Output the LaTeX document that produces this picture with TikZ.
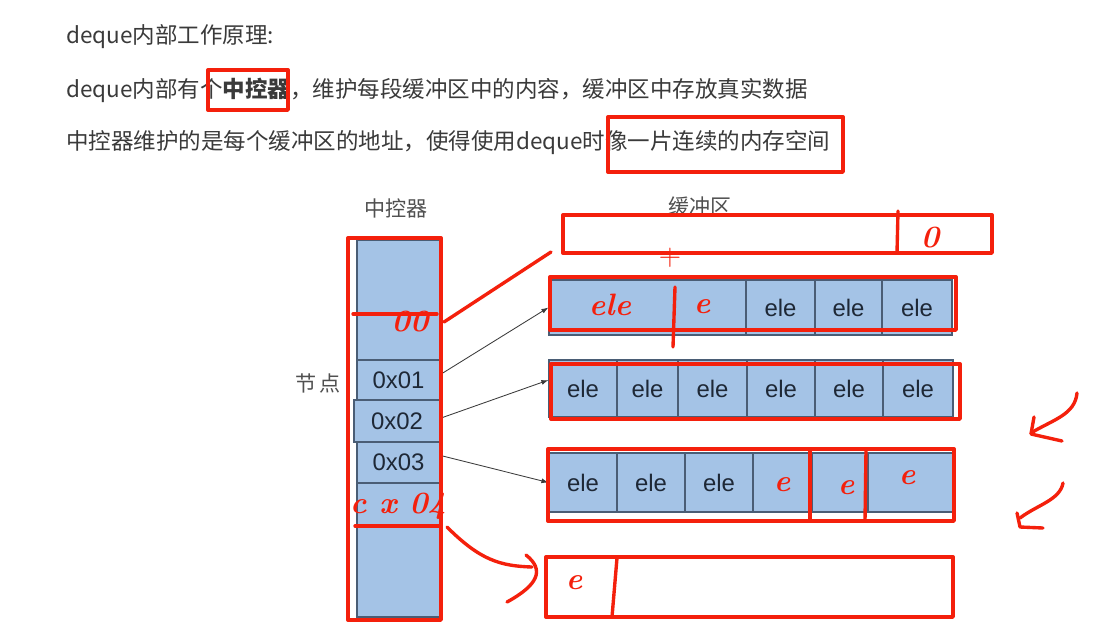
\documentclass[tikz,border=0pt]{standalone}
\usepackage{fontspec}
\newfontfamily\cjkfont{Noto Sans CJK SC}
\newfontfamily\cellfont{Liberation Sans}
\usetikzlibrary{arrows.meta,positioning,calc}
\definecolor{DqText}{HTML}{3A3A3A}
\definecolor{DqGray}{HTML}{505050}
\definecolor{DqBlue}{HTML}{A4C3E6}
\definecolor{DqEdge}{HTML}{4A5D75}
\definecolor{DqInk}{HTML}{1E2836}
\definecolor{DqRed}{HTML}{F4200C}
\tikzset{
  para/.style={anchor=west, inner sep=0pt, text=DqText, font=\cjkfont\fontsize{16}{20}\selectfont},
  lbl/.style={inner sep=0pt, text=DqGray, font=\cjkfont\fontsize{15}{18}\selectfont},
  cell/.style={draw=DqEdge, fill=DqBlue, line width=0.8pt, inner sep=0pt,
               text=DqInk, font=\cellfont\fontsize{17}{20}\selectfont},
  ptr/.style={-{Latex[length=5pt,width=3.5pt]}, draw=DqText, line width=0.6pt},
  redmark/.style={draw=DqRed, line width=2.4pt, line cap=round, line join=round},
  ink/.style={inner sep=0pt, text=DqRed, font=\itshape\bfseries\fontsize{22}{24}\selectfont},
}
\begin{document}
\begin{tikzpicture}[x=0.025cm, y=-0.025cm]
  \useasboundingbox[fill=white] (0,0) rectangle (1104,633);

  % text above the picture
  \node[para] (t1) at (66,37) {deque内部工作原理:};
  \node[para] (t2) at (66,90) {deque内部有个\textbf{中控器}，维护每段缓冲区中的内容，缓冲区中存放真实数据};
  \node[para] (t3) at (66,143) {中控器维护的是每个缓冲区的地址，使得使用deque时像一片连续的内存空间};

  \node[lbl] (lctl) at (396,208) {中控器};
  \node[lbl] (lbuf) at (700,207) {缓冲区};
  \node[lbl] (lnode) at (318,383) {节\,点};

  % central map
  \node[cell, minimum width=2.075cm, minimum height=3cm] (ctop) at (398.5,300) {};
  \node[cell, minimum width=2.075cm, minimum height=1cm] (c1) at (398.5,380) {0x01};
  \node[cell, minimum width=2.075cm, minimum height=1.025cm] (c3) at (398.5,462.5) {0x03};
  \node[cell, minimum width=2.075cm, minimum height=3.35cm] (cbot) at (398.5,550) {};
  \node[cell, minimum width=2.15cm, minimum height=1.05cm] (c2) at (397,421) {0x02};

  % buffers
  \foreach \xa/\xb/\txt [count=\i] in {549/746/,746/815/ele,815/882/ele,882/952/ele}
    \node[cell, minimum width={(\xb-\xa)*0.025cm}, minimum height=1.375cm] (r1c\i) at ({(\xa+\xb)/2},307.5) {\txt};
  \foreach \xa/\xb [count=\i] in {549/617,617/678,678/747,747/815,815/883,883/953}
    \node[cell, minimum width={(\xb-\xa)*0.025cm}, minimum height=1.425cm] (r2c\i) at ({(\xa+\xb)/2},388.5) {ele};
  \foreach \xa/\xb/\txt [count=\i] in {549/617/ele,617/685/ele,685/753/ele,753/812/,812/868/,868/953/}
    \node[cell, minimum width={(\xb-\xa)*0.025cm}, minimum height=1.475cm] (r3c\i) at ({(\xa+\xb)/2},482.5) {\txt};

  \draw[ptr] ([yshift=4pt]c1.east) -- (r1c1.west);
  \draw[ptr] ([yshift=2pt]c2.east) -- ([yshift=6pt]r2c1.west);
  \draw[ptr] ([yshift=5pt]c3.east) -- (r3c1.west);

  % red marker notes
  \draw[redmark] (208,70) rectangle (288,110);
  \draw[redmark] (608,117) rectangle (843,172);
  \draw[redmark] (348,238) rectangle (441,620);
  \draw[redmark] (563,215) rectangle (992,253);
  \draw[redmark] (550,277) rectangle (956,330);
  \draw[redmark] (551,364) rectangle (960,419);
  \draw[redmark] (548,449) rectangle (954,521);
  \draw[redmark] (546,557) rectangle (953,617);

  \draw[redmark] (353,314) -- (437,314);
  \draw[redmark] (355,526) -- (440,526);
  \coordinate (lnA) at (444,322);
  \coordinate (lnB) at (551,252);
  \draw[redmark] (lnA) -- (lnB);

  \draw[redmark] (898,211) -- (897,253);
  \draw[redmark] (675,287) -- (673,347);
  \draw[redmark] (810,450) -- (810,520);
  \draw[redmark] (866,450) -- (865,521);
  \draw[redmark] (617,558) -- (612,617);

  \draw[redmark] (447,527) .. controls (480,560) and (500,566) .. (532,567);
  \draw[redmark] (526,555) .. controls (545,570) and (538,585) .. (507,602);

  \draw[redmark] (1077,393) .. controls (1075,415) and (1052,420) .. (1031,433);
  \draw[redmark] (1034,417) -- (1031,434) -- (1062,441);
  \draw[redmark] (1063,483) .. controls (1060,500) and (1037,505) .. (1020,518);
  \draw[redmark] (1017,513) -- (1020,527) -- (1043,528);

  \node[ink] (h0) at (930,238) {0};
  \node[ink] (h00) at (410,322) {00};
  \node[ink] (hplus) at (670,258) {\upshape\mdseries +};
  \node[ink] (hele) at (610,305) {ele};
  \node[ink] (he1) at (702,307) {e};
  \node[ink] (he2) at (782,485) {e};
  \node[ink] (he3) at (846,488) {e};
  \node[ink] (he4) at (907,478) {e};
  \node[ink] (hcx) at (398,506) {c x 04};
  \node[ink] (he5) at (574,583) {e};
\end{tikzpicture}
\end{document}
